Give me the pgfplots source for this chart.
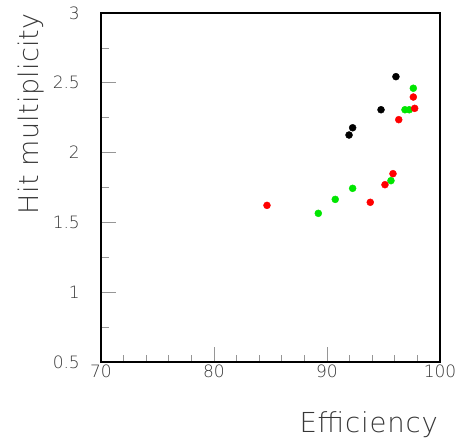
\documentclass[border=0pt]{standalone}
\usepackage{fontspec}
\setmainfont{DejaVu Sans ExtraLight}
\usepackage{pgfplots}
\pgfplotsset{compat=1.18}
\definecolor{txt}{RGB}{55,55,55}
\definecolor{tk}{RGB}{150,150,150}
\definecolor{grn}{RGB}{0,230,0}
\definecolor{rd}{RGB}{255,0,0}
\begin{document}
\begin{tikzpicture}
\useasboundingbox (-101pt,-78pt) rectangle (360pt,362pt);
\begin{axis}[
  at={(0pt,0pt)}, anchor=south west,
  scale only axis, width=339pt, height=349pt,
  xmin=70, xmax=100, ymin=0.5, ymax=3,
  xtick={70,80,90,100}, ytick={0.5,1,1.5,2,2.5,3},
  minor x tick num=4, minor y tick num=1,
  tick align=inside, xtick pos=bottom, ytick pos=left,
  major tick length=15pt, minor tick length=7.5pt,
  tick style={draw=tk, line width=0.8pt},
  axis line style={line width=2pt, black},
  /pgf/number format/assume math mode=true,
  /pgf/number format/fixed,
  ticklabel style={font=\fontsize{17}{17}\selectfont, text=txt, inner sep=0pt},
  xticklabel style={anchor=north, yshift=-3pt},
  yticklabel style={anchor=east, xshift=-21pt},
  clip=false,
]
\addplot[only marks, mark=*, mark size=3.5pt, mark options={draw=black, fill=black}] coordinates {
(96.1,2.544) (94.78,2.307) (92.27,2.178) (91.95,2.126)
};
\addplot[only marks, mark=*, mark size=3.5pt, mark options={draw=grn, fill=grn}] coordinates {
(97.64,2.461) (96.9,2.307) (97.28,2.307) (95.66,1.799) (92.27,1.744) (90.73,1.665) (89.23,1.565)
};
\addplot[only marks, mark=*, mark size=3.5pt, mark options={draw=rd, fill=rd}] coordinates {
(97.64,2.398) (97.76,2.317) (96.35,2.236) (95.84,1.849) (95.13,1.770) (93.83,1.644) (84.69,1.622)
};
\end{axis}
\node[anchor=base east, inner sep=0pt, text=txt, font=\fontsize{27.5}{27.5}\selectfont\addfontfeature{LetterSpace=3}] at (337pt,-70pt) {Efficiency};
\node[anchor=base east, rotate=90, inner sep=0pt, text=txt, font=\fontsize{27}{27}\selectfont\addfontfeature{LetterSpace=1}] at (-62pt,349pt) {Hit multiplicity};
\end{tikzpicture}
\end{document}
